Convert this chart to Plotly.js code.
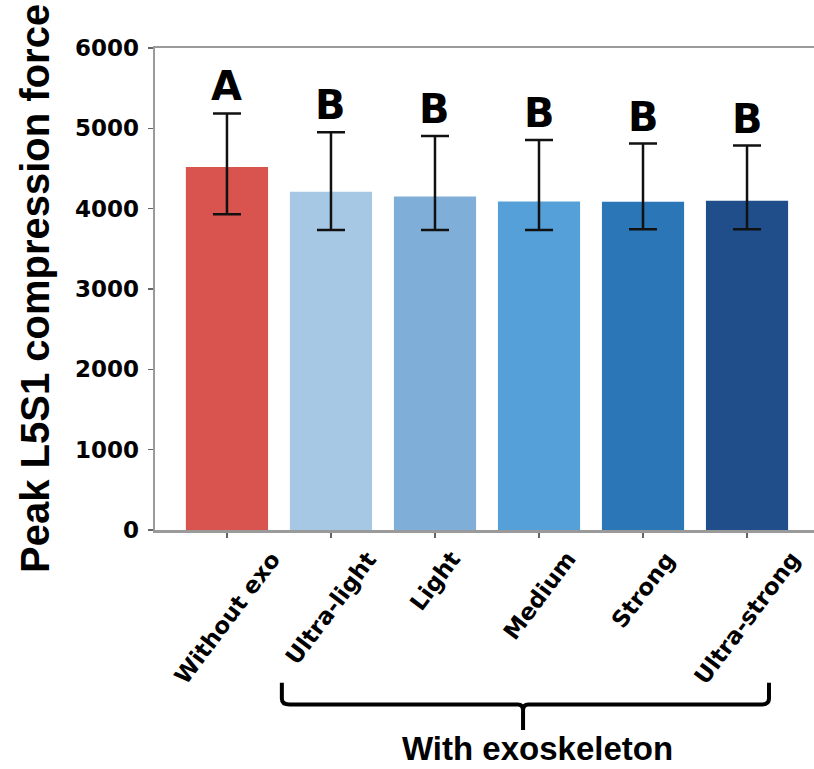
<!DOCTYPE html>
<html>
<head>
<meta charset="utf-8">
<script src="https://cdn.plot.ly/plotly-3.0.1.min.js"></script>
<style>
  html, body { margin: 0; padding: 0; background: #fff; overflow: hidden; }
  #chart { width: 814px; height: 769px; }
</style>
</head>
<body>
<div id="chart"></div>
<script>
// Conditions and peak L5S1 compression force (N): mean with asymmetric error bars
const conditions = ["Without exo", "Ultra-light", "Light", "Medium", "Strong", "Ultra-strong"];
const meanForce  = [4520, 4210, 4150, 4090, 4085, 4100];
const errUpper   = [665, 740, 755, 765, 725, 685];
const errLower   = [590, 475, 415, 355, 340, 355];
const groupLetters = ["A", "B", "B", "B", "B", "B"];
const barColors  = ["#D9534F", "#A7C8E4", "#7FAFD8", "#55A0D8", "#2A76B6", "#1F4E8A"];
const yTicks     = [0, 1000, 2000, 3000, 4000, 5000, 6000];
const groupLabel = "With exoskeleton";
const yTitle     = "Peak L5S1 compression force";

const xIdx = conditions.map((_, i) => i);

const trace = {
  type: "bar",
  x: xIdx,
  y: meanForce,
  marker: { color: barColors, line: { width: 0 } },
  error_y: {
    type: "data",
    symmetric: false,
    array: errUpper,
    arrayminus: errLower,
    color: "#111111",
    thickness: 2.5,
    width: 14
  },
  hoverinfo: "skip"
};

const axisGray = "#9a9a9a";

// significance letters above each error bar
const letterAnns = conditions.map((c, i) => ({
  x: i, xref: "x",
  y: meanForce[i] + errUpper[i], yref: "y",
  text: groupLetters[i],
  showarrow: false,
  xanchor: "center", yanchor: "bottom",
  yshift: 2,
  font: { family: "DejaVu Sans", size: 40, color: "#000", weight: "bold" }
}));

// rotated category labels, centred under each tick
const tickAnns = conditions.map((c, i) => ({
  x: i, xref: "x",
  y: 0, yref: "paper",
  text: "<b>" + c + "</b>",
  showarrow: false,
  textangle: -53,
  xanchor: "center", yanchor: "top",
  yshift: -14,
  font: { family: "DejaVu Sans", size: 23, color: "#000" }
}));

const extraAnns = [
  {
    x: 0, xref: "paper", y: 0.5, yref: "paper",
    text: "<b>" + yTitle + "</b>",
    showarrow: false, textangle: -90,
    xanchor: "center", yanchor: "middle",
    xshift: -120,
    font: { family: "Liberation Sans", size: 40, color: "#000" }
  },
  {
    x: 0.58, xref: "paper", y: 0, yref: "paper",
    text: "<b>" + groupLabel + "</b>",
    showarrow: false,
    xanchor: "center", yanchor: "bottom",
    yshift: -238,
    borderpad: 0,
    font: { family: "Liberation Sans", size: 33, color: "#000" }
  }
];

// curly bracket grouping the exoskeleton conditions (paper units)
const bL = 0.1925, bR = 0.9317, bM = 0.5585;
const yTop = -0.317, yBar = -0.362, yTip = -0.415;
const bracketPath =
  `M ${bL} ${yTop} L ${bL} ${yBar + 0.012} Q ${bL} ${yBar} ${bL + 0.012} ${yBar}` +
  ` L ${bM - 0.008} ${yBar} Q ${bM} ${yBar} ${bM} ${yBar - 0.012} L ${bM} ${yTip}` +
  ` M ${bM} ${yBar - 0.012} Q ${bM} ${yBar} ${bM + 0.008} ${yBar}` +
  ` L ${bR - 0.012} ${yBar} Q ${bR} ${yBar} ${bR} ${yBar + 0.012} L ${bR} ${yTop}`;

const layout = {
  width: 814,
  height: 769,
  margin: { l: 155, r: 0, t: 48, b: 239, pad: 0 },
  paper_bgcolor: "#ffffff",
  plot_bgcolor: "#ffffff",
  showlegend: false,
  bargap: 0.21,
  xaxis: {
    range: [-0.692, 5.644],
    tickvals: xIdx,
    showticklabels: false,
    ticks: "outside",
    ticklen: 5,
    tickwidth: 1.5,
    tickcolor: "#666",
    showline: true,
    linecolor: axisGray,
    linewidth: 2.5,
    mirror: true,
    showgrid: false,
    zeroline: false,
    fixedrange: true
  },
  yaxis: {
    range: [0, 6000],
    tickvals: yTicks,
    ticktext: yTicks.map(String),
    ticks: "outside",
    ticklen: 5,
    tickwidth: 1.5,
    tickcolor: "#666",
    ticklabelstandoff: 4,
    tickfont: { family: "DejaVu Sans", size: 23, color: "#000", weight: "bold" },
    showline: true,
    linecolor: axisGray,
    linewidth: 2.5,
    showgrid: false,
    zeroline: false,
    fixedrange: true
  },
  annotations: letterAnns.concat(tickAnns, extraAnns),
  shapes: [
    {
      type: "path",
      xref: "paper", yref: "paper",
      path: bracketPath,
      line: { color: "#000", width: 4 }
    }
  ]
};

Plotly.newPlot("chart", [trace], layout, { displayModeBar: false, staticPlot: true });
</script>
</body>
</html>
